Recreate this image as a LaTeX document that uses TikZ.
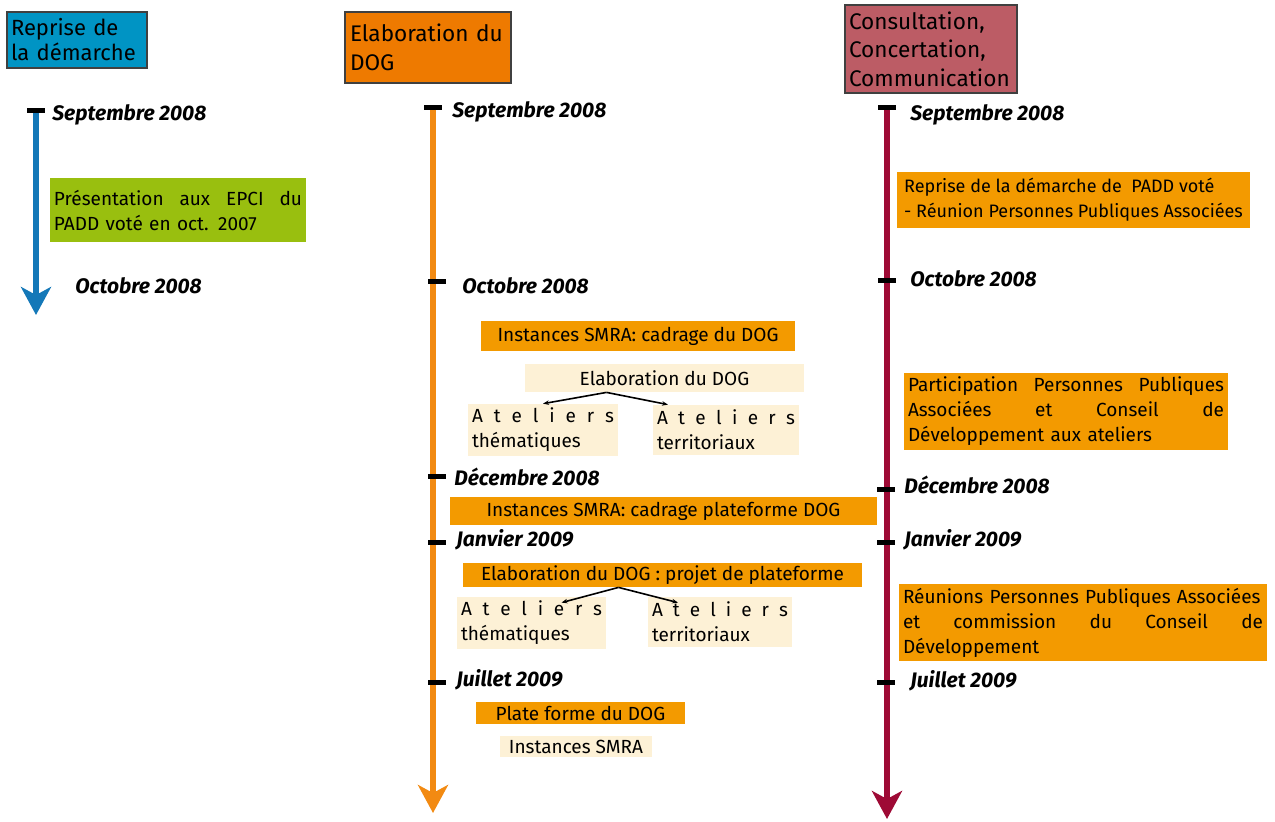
\documentclass[tikz,border=0pt]{standalone}
\usepackage{fontspec}
\setmainfont{Fira Sans}
\usepackage{xcolor}
\usepackage{tikz}
\usetikzlibrary{arrows.meta}

\definecolor{hblue}{HTML}{0094C4}
\definecolor{lblue}{HTML}{1478B8}
\definecolor{hgreen}{HTML}{99BF0F}
\definecolor{horange}{HTML}{EE7A00}
\definecolor{lorange}{HTML}{F28A12}
\definecolor{borange}{HTML}{F39A00}
\definecolor{cream}{HTML}{FDF1D6}
\definecolor{hrose}{HTML}{BC5C65}
\definecolor{lcrimson}{HTML}{9E0A35}

\begin{document}
\begin{tikzpicture}[x=0.5pt, y=-0.5pt,
    head/.style={draw=black!75, line width=1pt, align=left, inner sep=2pt, font=\fontsize{11.3}{14.3}\selectfont},
    obox/.style={fill=borange, inner sep=2pt, font=\fontsize{9.5}{12.5}\selectfont},
    cbox/.style={fill=cream, inner sep=2pt, font=\fontsize{9.5}{12.5}\selectfont},
    date/.style={anchor=west, inner sep=0pt, font=\fontsize{10.5}{12}\bfseries\itshape\selectfont},
    tick/.style={fill=black, inner sep=0pt, minimum width=9pt, minimum height=2.5pt},
    axis/.style={line width=3.2pt, -{Stealth[length=14pt, width=15pt, inset=4pt]}},
    sub/.style={-{Stealth[length=3pt]}, line width=0.8pt}]
    \useasboundingbox (0,0) rectangle (1275,821);

    % Reprise de la demarche
    \node [head, fill=hblue, minimum width=70pt, minimum height=28pt, text width=66pt,
        font=\fontsize{11}{12.5}\selectfont] (R) at (77,40) {Reprise de\\la démarche};
    \node [tick] (R1) at (36,110) {};
    \coordinate (Rend) at (36,315);
    \draw [axis, lblue] (R1) -- (Rend);
    \node [date] (R1t) at (52,115) {Septembre 2008};
    \node [fill=hgreen, inner sep=2pt, minimum height=32pt, text width=124pt, align=left,
        font=\fontsize{9.5}{12.5}\selectfont] (RP) at (178,210)
        {Présentation\hfill aux\hfill EPCI\hfill du\\PADD voté en oct. 2007};
    \node [date] (R2t) at (75,286) {Octobre 2008};

    % Elaboration du DOG
    \node [head, fill=horange, minimum width=83pt, minimum height=35.5pt, text width=78pt, inner xsep=2.5pt] (E) at (428,47.5) {Elaboration du\\DOG};
    \node [tick] (E1) at (433,107) {};
    \coordinate (Eend) at (433,813);
    \draw [axis, lorange] (E1) -- (Eend);
    \node [tick] (E2) at (437,281) {};
    \node [tick] (E3) at (437,476) {};
    \node [tick] (E4) at (437,542) {};
    \node [tick] (E5) at (437,682) {};
    \node [date] (E1t) at (452,112) {Septembre 2008};
    \node [date] (E2t) at (462,286) {Octobre 2008};
    \node [date] (E3t) at (454,477) {Décembre 2008};
    \node [date] (E4t) at (456,540) {Janvier 2009};
    \node [date] (E5t) at (456,680) {Juillet 2009};

    \node [obox, minimum width=157pt, minimum height=15pt] (EI) at (638,336) {Instances SMRA: cadrage du DOG};
    \node [cbox, minimum width=139.5pt, minimum height=14pt] (EA) at (664.5,378) {Elaboration du DOG};
    \node [cbox, text width=71pt, minimum height=25pt, align=left] (EAth) at (543,430)
        {A\hfill t\hfill e\hfill l\hfill i\hfill e\hfill r\hfill s\\thématiques};
    \node [cbox, text width=69pt, minimum height=25pt, align=left] (EAte) at (726,430)
        {A\hfill t\hfill e\hfill l\hfill i\hfill e\hfill r\hfill s\\territoriaux};
    \draw [sub] ([xshift=-29pt]EA.south) -- (EAth.north);
    \draw [sub] ([xshift=-29pt]EA.south) -- ([xshift=-29pt]EAte.north);

    \node [obox, minimum width=213.5pt, minimum height=14pt] (EIp) at (663.5,511) {Instances SMRA: cadrage plateforme DOG};
    \node [obox, minimum width=199.5pt, minimum height=12pt, inner sep=0pt] (EP) at (662.5,575) {Elaboration du DOG : projet de plateforme};
    \node [cbox, text width=70.5pt, minimum height=26pt, align=left] (EPth) at (531.5,623)
        {A\hfill t\hfill e\hfill l\hfill i\hfill e\hfill r\hfill s\\thématiques};
    \node [cbox, text width=68pt, minimum height=25pt, align=left] (EPte) at (720,622)
        {A\hfill t\hfill e\hfill l\hfill i\hfill e\hfill r\hfill s\\territoriaux};
    \draw [sub] ([xshift=-22pt]EP.south) -- ([xshift=15pt,yshift=-3pt]EPth.north);
    \draw [sub] ([xshift=-22pt]EP.south) -- ([xshift=-21pt,yshift=-3pt]EPte.north);

    \node [obox, minimum width=104.5pt, minimum height=11pt, inner sep=0pt] (EF) at (580.5,713) {Plate forme du DOG};
    \node [cbox, minimum width=76pt, minimum height=10.5pt, inner sep=0pt] (EFi) at (576,746.5) {Instances SMRA};

    % Consultation, Concertation, Communication
    \node [head, fill=hrose, minimum width=86pt, minimum height=44pt, text width=82pt] (C) at (931,49)
        {Consultation,\\Concertation,\\Communication};
    \node [tick] (C1) at (887,107) {};
    \coordinate (Cend) at (887,819);
    \draw [axis, lcrimson] (C1) -- (Cend);
    \node [tick] (C2) at (887,280) {};
    \node [tick] (C3) at (886,489) {};
    \node [tick] (C4) at (886,542) {};
    \node [tick] (C5) at (886,682) {};
    \node [date] (C1t) at (910,115) {Septembre 2008};
    \node [date] (C2t) at (910,279) {Octobre 2008};
    \node [date] (C3t) at (904,485) {Décembre 2008};
    \node [date] (C4t) at (904,540) {Janvier 2009};
    \node [date] (C5t) at (910,681) {Juillet 2009};

    \node [obox, minimum width=176.5pt, minimum height=28pt, align=left, font=\fontsize{9}{12.5}\selectfont] (CR) at (1073.5,200)
        {Reprise de la démarche de~ PADD voté\\- Réunion Personnes Publiques Associées};
    \node [obox, text width=158pt, minimum height=37.5pt, align=left] (CP) at (1066,411.5)
        {Participation\hfill Personnes\hfill Publiques\\Associées\hfill et\hfill Conseil\hfill de\\Développement aux ateliers};
    \node [obox, text width=180pt, minimum height=37.5pt, align=left] (CM) at (1083,622.5)
        {Réunions Personnes Publiques Associées\\et\hfill commission\hfill du\hfill Conseil\hfill de\\Développement};
\end{tikzpicture}
\end{document}
